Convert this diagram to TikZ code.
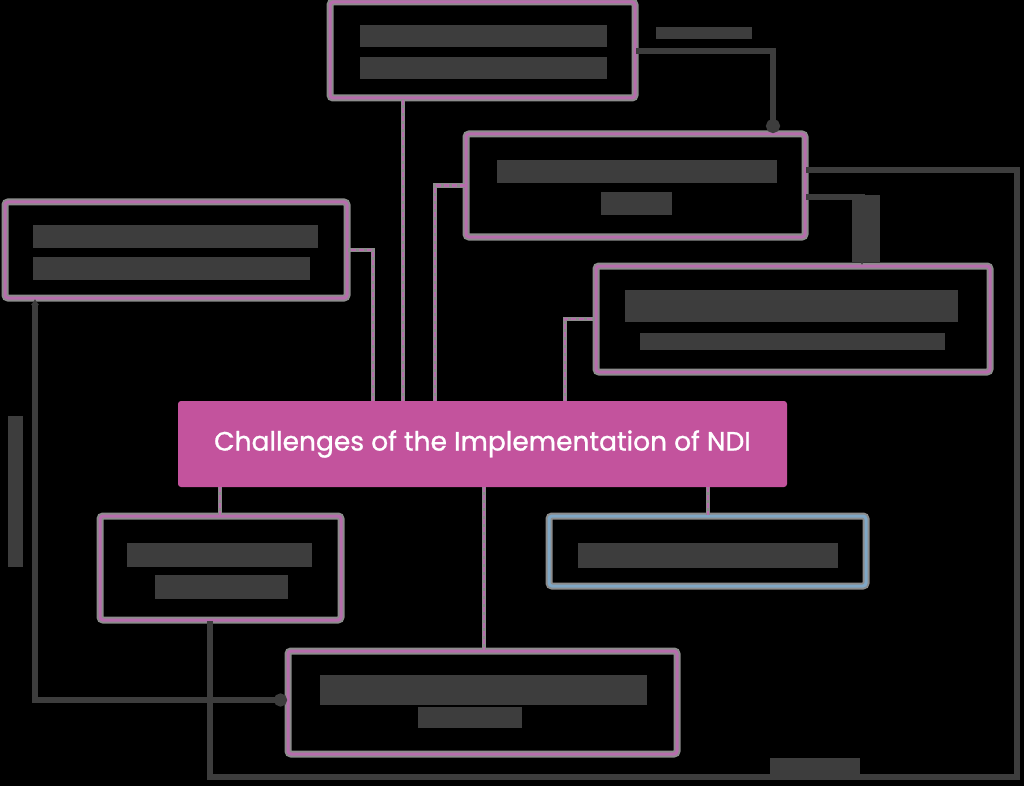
\documentclass[tikz,border=0pt]{standalone}
\usepackage{fontspec}
\setmainfont{Poppins}
\newfontfamily\cfont{Poppins}[FakeBold=1]
\usetikzlibrary{fit,arrows.meta}
\definecolor{pinkc}{HTML}{B76DAD}
\definecolor{bluec}{HTML}{7FA7C6}
\definecolor{greyc}{HTML}{8C8C8C}
\definecolor{darkc}{HTML}{3D3D3D}
\definecolor{mainc}{HTML}{C3539D}
\tikzset{
  framebox/.style={inner sep=0pt, draw=greyc, line width=2pt, double=pinkc, double distance=3pt, rounded corners=3pt},
  bluebox/.style={framebox, double=bluec},
  mainbox/.style={inner sep=0pt, fill=mainc, rounded corners=3pt},
  blk/.style={fill=darkc, draw=none},
  darkline/.style={draw=darkc, line width=5.5pt},
  pinkline/.style={preaction={draw=greyc, line width=4.5pt}, draw=pinkc, line width=2.2pt, dash pattern=on 5pt off 3pt},
}
\begin{document}
\begin{tikzpicture}[x=1pt,y=-1pt]
\fill[black] (0,0) rectangle (1024,786);
\useasboundingbox (0,0) rectangle (1024,786);

% boxes
\node[framebox, fit={(330,2) (635,98)}] (A) {};
\node[framebox, fit={(466,134) (805,237)}] (B) {};
\node[framebox, fit={(596,266) (990,372)}] (L) {};
\node[framebox, fit={(5,202) (347,298)}] (D) {};
\node[framebox, fit={(100,516) (341,620)}] (F) {};
\node[bluebox, fit={(549,516) (866,586)}] (G) {};
\node[framebox, fit={(288,651) (677,754)}] (E) {};
\node[mainbox, fit={(178,401) (787,487)}] (C) {};
\node[text=white, font=\cfont\fontsize{26.5}{30}\selectfont] (CT) at (C.center) {Challenges of the Implementation of NDI};

% obscured texts (rendered as blocks)
\fill[blk] (360,25) rectangle (607,47);
\fill[blk] (360,57) rectangle (607,79);
\fill[blk] (497,160) rectangle (777,183);
\fill[blk] (601,192) rectangle (672,215);
\fill[blk] (625,290) rectangle (958,322);
\fill[blk] (640,333) rectangle (945,350);
\fill[blk] (33,225) rectangle (318,248);
\fill[blk] (33,257) rectangle (310,280);
\fill[blk] (127,543) rectangle (312,567);
\fill[blk] (155,575) rectangle (288,599);
\fill[blk] (578,543) rectangle (838,568);
\fill[blk] (320,675) rectangle (647,705);
\fill[blk] (418,707) rectangle (522,728);

% pink connectors from the centre
\coordinate (p1) at (403,0);
\coordinate (p2) at (435,0);
\coordinate (p3) at (373,0);
\coordinate (p4) at (565,0);
\coordinate (p5) at (220,0);
\coordinate (p6) at (484,0);
\coordinate (p7) at (708,0);
\draw[pinkline] (C.north -| p1) -- (A.south -| p1);
\draw[pinkline] (C.north -| p2) |- (B.west);
\draw[pinkline] (C.north -| p3) |- (D.east);
\draw[pinkline] (C.north -| p4) |- (L.west);
\draw[pinkline] (C.south -| p5) -- (F.north -| p5);
\draw[pinkline] (C.south -| p6) -- (E.north -| p6);
\draw[pinkline] (C.south -| p7) -- (G.north -| p7);

% dark connectors
\coordinate (q1) at (773,51);
\coordinate (q2) at (1017,170);
\coordinate (q2b) at (1017,777);
\coordinate (q3) at (862,197);
\coordinate (q4) at (210,777);
\coordinate (q5) at (35,700);
\draw[darkline, -{Circle[length=14pt]}] (A.east |- q1) -| (B.north -| q1);
\draw[darkline] (B.east |- q2) -- (q2) -- (q2b) -- (q4) -- (F.south -| q4);
\draw[darkline, -{Latex[length=8pt,width=11pt]}] (B.east |- q3) -| (L.north -| q3);
\draw[darkline, {Latex[length=6pt,width=9pt]}-{Circle[length=13pt]}] (D.south -| q5) |- (E.west |- q5);

% connector labels (obscured)
\fill[blk] (656,27) rectangle (752,39);
\node[blk, inner sep=0pt, fit={(852,195) (880,262)}] (lab2) {};
\node[blk, inner sep=0pt, fit={(770,758) (860,775)}] (lab3) {};
\node[blk, inner sep=0pt, fit={(8,416) (23,567)}] (lab4) {};
\end{tikzpicture}
\end{document}
